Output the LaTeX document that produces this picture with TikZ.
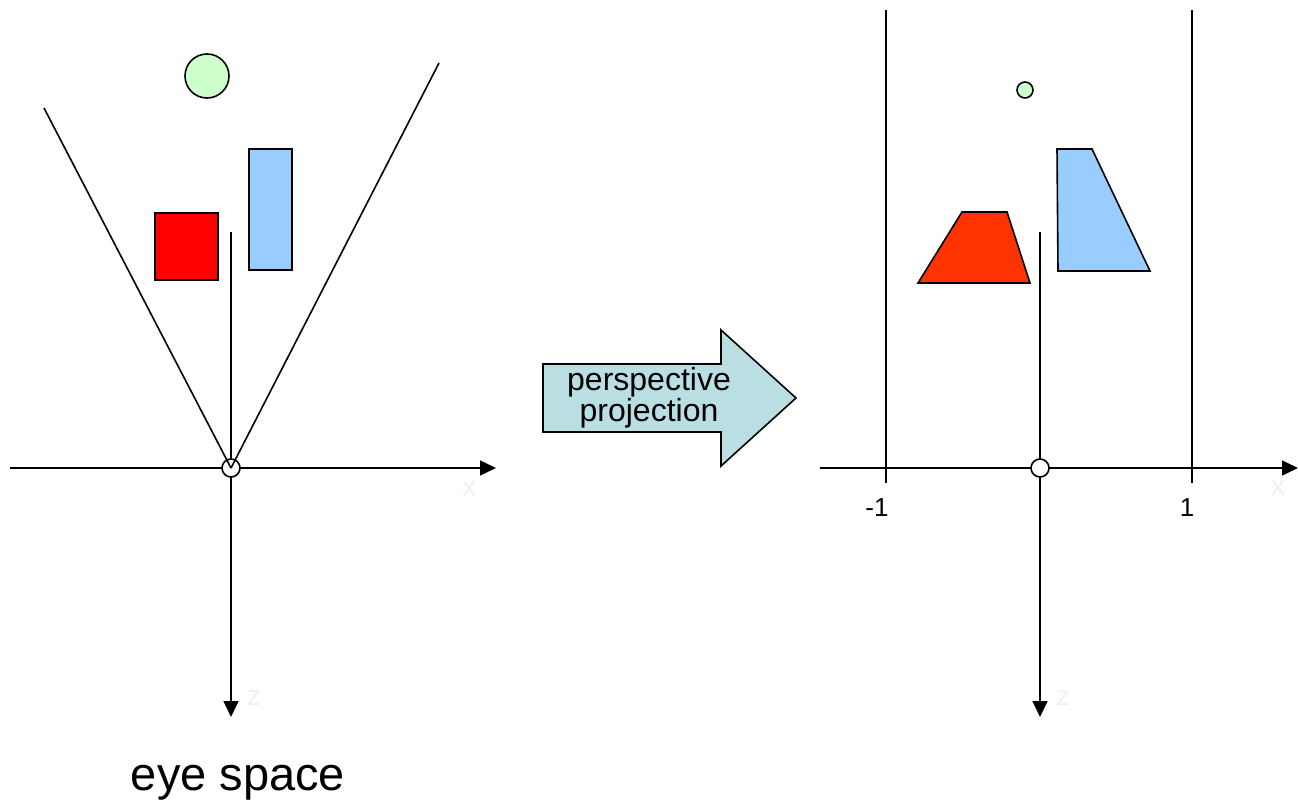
\documentclass[tikz,border=0pt]{standalone}
\usepackage{fontspec}
\setmainfont{Liberation Sans}
\usetikzlibrary{arrows.meta}
\definecolor{redsq}{HTML}{FF0000}
\definecolor{redtrap}{HTML}{FF3300}
\definecolor{bluesh}{HTML}{99CCFF}
\definecolor{greensh}{HTML}{CCFFCC}
\definecolor{arrowfill}{HTML}{BADFE3}
\definecolor{faintgray}{HTML}{F0F0F0}
\begin{document}
\begin{tikzpicture}[x=1pt,y=-1pt,
  lw/.style={line width=1.6pt},
  axis/.style={draw=black, lw, -{Triangle[length=16pt,width=15pt]}},
  plainline/.style={draw=black, lw},
  shapeline/.style={draw=black, lw, line join=miter},
  eye/.style={circle, draw=black, fill=white, lw, minimum size=18pt, inner sep=0pt},
  faint/.style={text=faintgray, font=\fontsize{28}{30}\selectfont, inner sep=0pt, anchor=base},
  tick/.style={font=\fontsize{26}{28}\selectfont, inner sep=0pt, anchor=base},
]
\useasboundingbox (0,0) rectangle (1298,806);

% ---------- left: eye space ----------
\coordinate (Lxl) at (10,468);
\coordinate (Lxr) at (496,468);
\coordinate (Lzt) at (231,232);
\coordinate (Lzb) at (231,717);
\draw[axis] (Lxl) -- (Lxr);
\draw[axis] (Lzt) -- (Lzb);
\node[eye] (Leye) at (231,468) {};
\coordinate (Lfl) at (44,108);
\coordinate (Lfr) at (439,63);
\draw[plainline] (Leye.center) -- (Lfl);
\draw[plainline] (Leye.center) -- (Lfr);

\node[circle, draw=black, fill=greensh, lw, minimum size=44pt, inner sep=0pt] (Lgreen) at (207,76) {};
\node[rectangle, draw=black, fill=redsq, lw, minimum width=63pt, minimum height=67pt, inner sep=0pt] (Lred) at (186.5,246.5) {};
\node[rectangle, draw=black, fill=bluesh, lw, minimum width=43pt, minimum height=121pt, inner sep=0pt] (Lblue) at (270.5,209.5) {};

\node[faint] (Lxlab) at (469,496) {x};
\node[faint] (Lzlab) at (254,705) {z};

\node[font=\fontsize{47}{50}\selectfont, inner sep=0pt, anchor=base] (Ltitle) at (238,790) {eye space};

% ---------- middle arrow ----------
\draw[shapeline, fill=arrowfill]
  (543,364) -- (721,364) -- (721,330) -- (796,398) -- (721,466) -- (721,432) -- (543,432) -- cycle;
\node[align=center, font=\fontsize{32}{26}\selectfont, inner sep=0pt] (proj) at (649,398) {perspective\\projection};

% ---------- right: NDC ----------
\coordinate (Rxl) at (820,468);
\coordinate (Rxr) at (1298,468);
\coordinate (Rzt) at (1040,232);
\coordinate (Rzb) at (1040,717);
\coordinate (Rmt) at (886,10);
\coordinate (Rmb) at (886,483);
\coordinate (Rpt) at (1192,10);
\coordinate (Rpb) at (1192,483);
\draw[plainline] (Rmt) -- (Rmb);
\draw[plainline] (Rpt) -- (Rpb);
\draw[axis] (Rxl) -- (Rxr);
\draw[axis] (Rzt) -- (Rzb);
\node[eye] (Reye) at (1040,468) {};

\node[circle, draw=black, fill=greensh, lw, minimum size=16pt, inner sep=0pt] (Rgreen) at (1025,90) {};
\draw[shapeline, fill=redtrap] (918,283) -- (1030,283) -- (1007,212) -- (962,212) -- cycle;
\draw[shapeline, fill=bluesh] (1057,149) -- (1092,149) -- (1150,271) -- (1058,271) -- cycle;

\node[tick] (Rm1) at (877,516) {-1};
\node[tick] (Rp1) at (1187,516) {1};
\node[faint] (Rxlab) at (1278,495) {x};
\node[faint] (Rzlab) at (1063,705) {z};
\end{tikzpicture}
\end{document}
